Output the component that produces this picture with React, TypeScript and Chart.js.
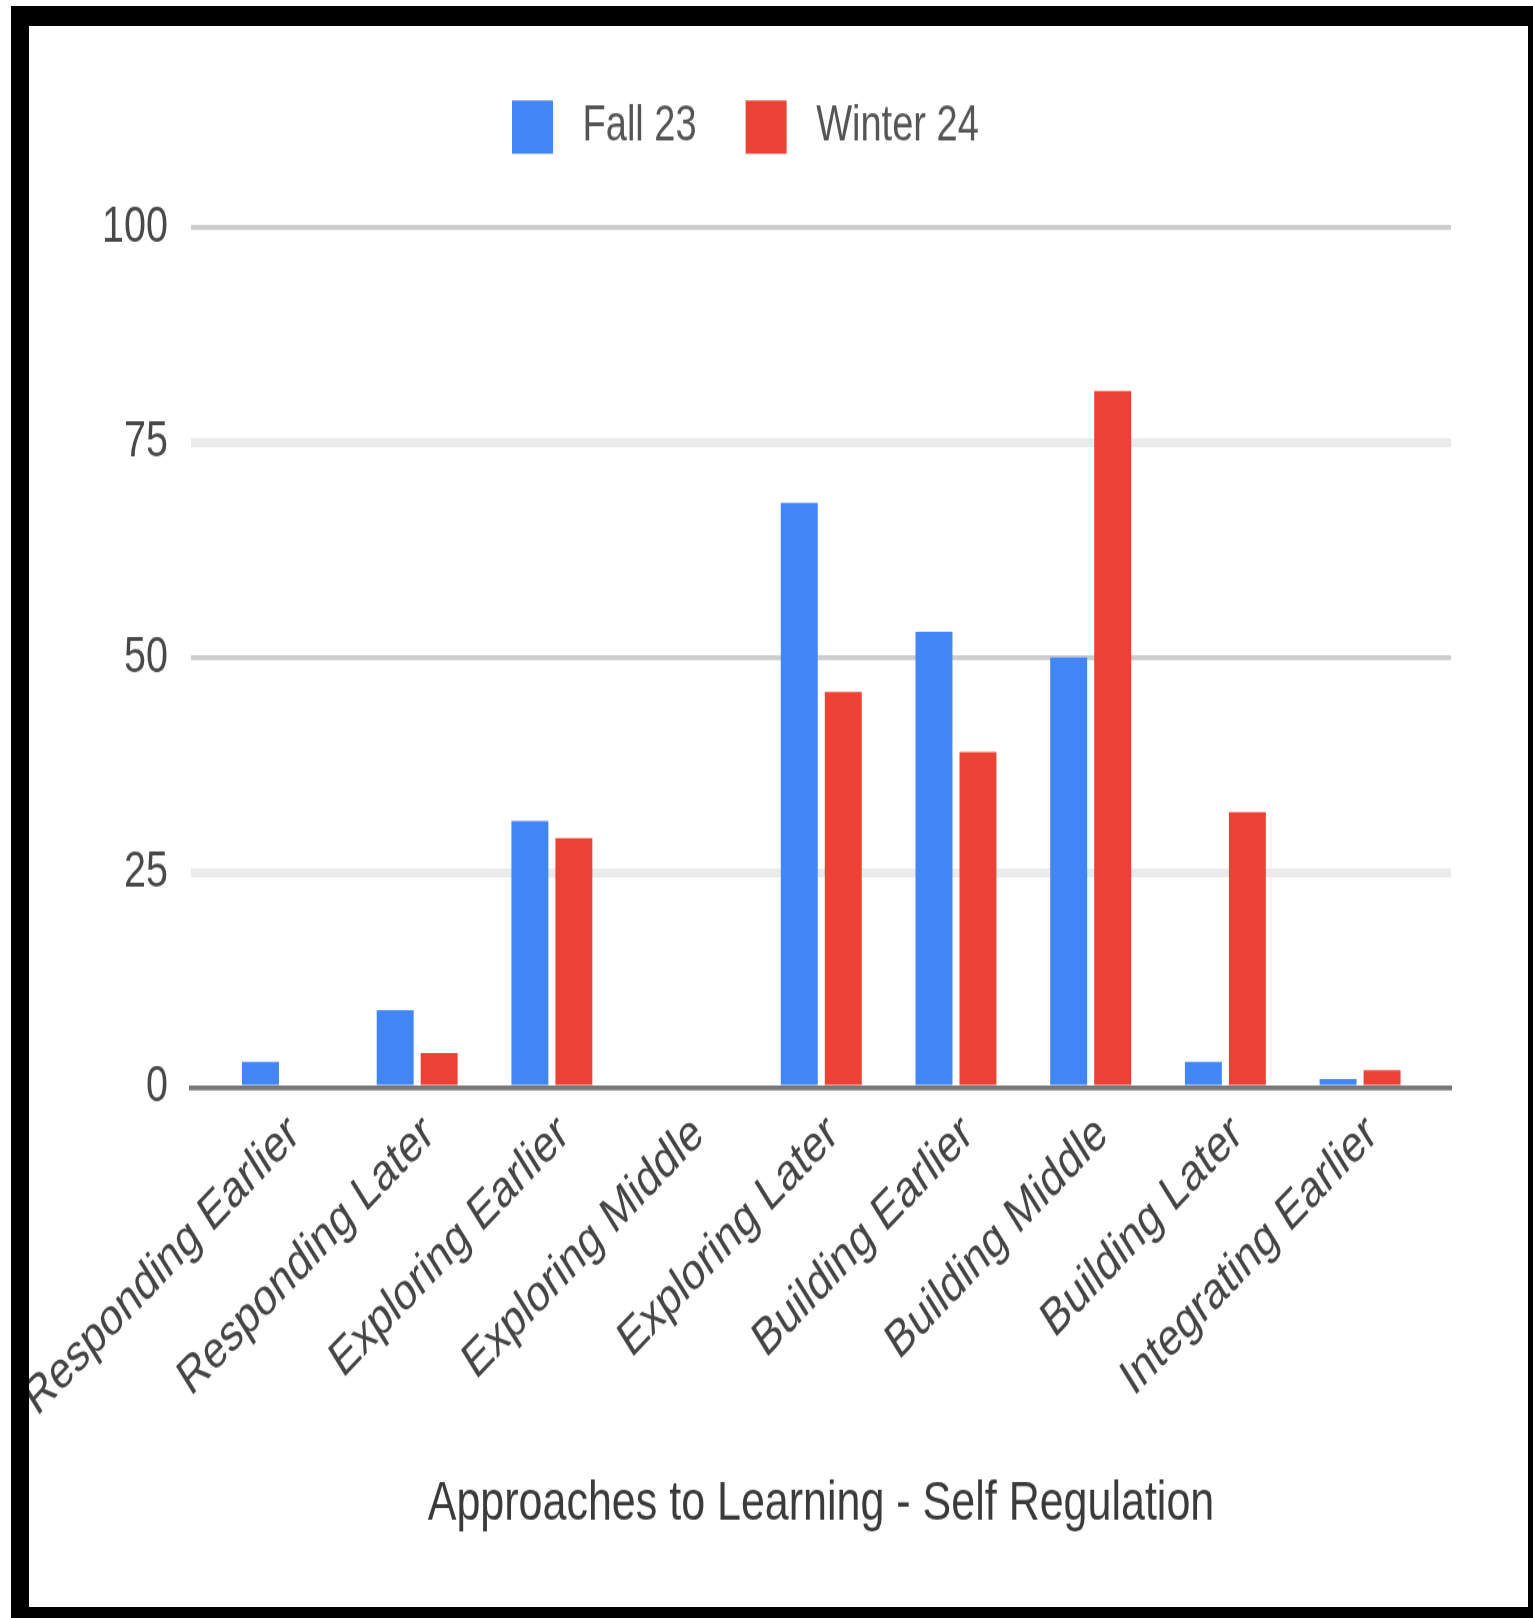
import React, { useEffect, useRef } from 'react';
import { Chart, registerables } from 'chart.js';

Chart.register(...registerables);

// ---- data ----
const categories = [
  'Responding Earlier',
  'Responding Later',
  'Exploring Earlier',
  'Exploring Middle',
  'Exploring Later',
  'Building Earlier',
  'Building Middle',
  'Building Later',
  'Integrating Earlier',
];
const fall23 = [3, 9, 31, 0, 68, 53, 50, 3, 1];
const winter24 = [0, 4, 29, 0, 46, 39, 81, 32, 2];
const yTicks = [0, 25, 50, 75, 100];
const seriesNames = ['Fall 23', 'Winter 24'];
const axisTitle = 'Approaches to Learning - Self Regulation';

// ---- layout / style ----
const FONT = '"Liberation Sans", Arial, Helvetica, sans-serif';
const STRETCH = 1.3; // reference is vertically stretched
const CANVAS_W = 1499;
const CANVAS_H = 1216;

export default function App() {
  const ref = useRef<HTMLCanvasElement | null>(null);

  useEffect(() => {
    if (!ref.current) return;

    const legendSpacer = {
      id: 'legendSpacer',
      beforeLayout(chart: any) {
        const lg = chart.legend;
        if (lg && !lg._spacerPatched) {
          const orig = lg.fit;
          lg.fit = function () {
            orig.call(this);
            this.height += 46.8;
          };
          lg._spacerPatched = true;
        }
      },
    };

    const chart = new Chart(ref.current, {
      type: 'bar',
      data: {
        datasets: [
          {
            label: seriesNames[0],
            data: fall23.map((v, i) => ({ x: i, y: v })),
            backgroundColor: '#4285F4',
            borderWidth: 0,
          },
          {
            label: seriesNames[1],
            data: winter24.map((v, i) => ({ x: i, y: v })),
            backgroundColor: '#EA4335',
            borderWidth: 0,
          },
        ],
      },
      options: {
        responsive: false,
        maintainAspectRatio: false,
        animation: false,
        devicePixelRatio: 1,
        categoryPercentage: 0.653,
        barPercentage: 0.84,
        layout: { padding: { left: 10.8, right: 77, top: 8.2, bottom: 53.4 } },
        plugins: {
          tooltip: { enabled: false },
          title: { display: false },
          legend: {
            display: true,
            position: 'top',
            align: 'center',
            labels: {
              boxWidth: 41,
              boxHeight: 41,
              padding: 49,
              color: '#555555',
              font: { family: FONT, size: 38 },
              generateLabels: (c: any) =>
                (Chart as any).defaults.plugins.legend.labels
                  .generateLabels(c)
                  .map((l: any) => ({ ...l, text: ' ' + l.text })),
            },
          },
        },
        scales: {
          x: {
            type: 'linear',
            min: -0.679,
            max: 8.675,
            offset: false,
            grid: { display: false, drawTicks: false, offset: false },
            border: { display: true, color: 'rgba(0,0,0,0.53)', width: 3.85, z: 1 },
            ticks: {
              stepSize: 1,
              includeBounds: false,
              autoSkip: false,
              minRotation: 39,
              maxRotation: 39,
              padding: 12,
              labelOffset: 12,
              color: '#444444',
              font: { family: FONT, size: 40 },
              callback: (v: any) => {
                const n = Number(v);
                return Number.isInteger(n) && categories[n] !== undefined ? categories[n] : '';
              },
            },
            title: {
              display: true,
              text: axisTitle,
              color: '#3a3a3a',
              font: { family: FONT, size: 43 },
              padding: { top: 0, bottom: 0 },
            },
            afterFit: (s: any) => {
              s.height = 346.1;
              s.paddingLeft = 0;
              s.paddingRight = 0;
            },
          },
          y: {
            type: 'linear',
            min: yTicks[0],
            max: yTicks[yTicks.length - 1],
            grid: {
              drawTicks: false,
              color: (ctx: any) => {
                const v = ctx.tick ? ctx.tick.value : 50;
                if (v === 0) return 'rgba(0,0,0,0)';
                return v % 50 === 0 ? '#cccccc' : '#ebebeb';
              },
              lineWidth: (ctx: any) => {
                const v = ctx.tick ? ctx.tick.value : 50;
                return v % 50 === 0 ? 3.8 : 7;
              },
            },
            border: { display: false },
            ticks: {
              stepSize: yTicks[1] - yTicks[0],
              padding: 23,
              color: '#484848',
              font: { family: FONT, size: 39.5 },
            },
            afterFit: (s: any) => {
              s.width = 151.2;
            },
          },
        },
      },
      plugins: [legendSpacer],
    } as any);

    return () => chart.destroy();
  }, []);

  return (
    <div
      style={{
        position: 'absolute',
        left: 0,
        top: 0,
        width: 1533,
        height: 1618,
        background: '#ffffff',
        overflow: 'hidden',
      }}
    >
      <div
        style={{
          position: 'absolute',
          left: 11,
          top: 6,
          width: 1522,
          height: 1612,
          boxSizing: 'border-box',
          borderStyle: 'solid',
          borderColor: '#000000',
          borderLeftWidth: 18,
          borderTopWidth: 20,
          borderRightWidth: 5,
          borderBottomWidth: 11,
        }}
      />
      <div
        style={{
          position: 'absolute',
          left: 29,
          top: 26,
          width: CANVAS_W,
          height: CANVAS_H,
          transform: `scaleY(${STRETCH})`,
          transformOrigin: '0 0',
        }}
      >
        <canvas ref={ref} width={CANVAS_W} height={CANVAS_H} style={{ display: 'block' }} />
      </div>
    </div>
  );
}
